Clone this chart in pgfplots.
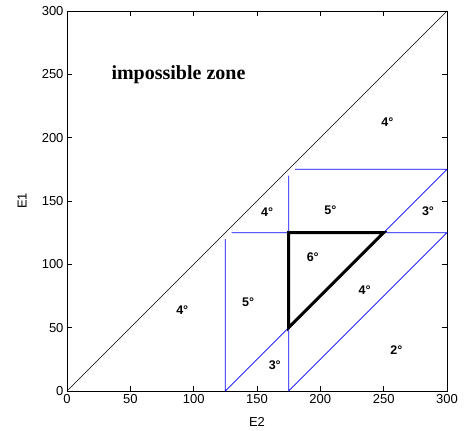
\documentclass[border=0pt]{standalone}
\usepackage{fontspec}
\setmainfont{Liberation Sans}
\newfontfamily\zonefont{Liberation Serif}
\usepackage{pgfplots}
\pgfplotsset{compat=1.18}
\definecolor{mblue}{RGB}{0,0,255}

\begin{document}
\begin{tikzpicture}
\begin{axis}[
  scale only axis,
  width=380pt, height=380pt,
  xmin=0, xmax=300, ymin=0, ymax=300,
  xtick={0,50,...,300}, ytick={0,50,...,300},
  tick align=inside, major tick length=5pt,
  tick style={black, line width=0.6pt},
  axis line style={line width=0.9pt},
  /pgf/number format/assume math mode=true,
  ticklabel style={font=\fontsize{13}{15}\selectfont},
  xlabel={E2}, ylabel={E1},
  every axis x label/.style={at={(axis description cs:0.5,-0.082)}, anchor=center, font=\fontsize{13}{15}\selectfont},
  every axis y label/.style={at={(axis description cs:-0.118,0.5)}, anchor=center, rotate=90, font=\fontsize{13}{15}\selectfont},
  unbounded coords=jump,
  clip=false,
]
% diagonal E1 = E2
\addplot[black, line width=0.6pt] coordinates {(0,0) (300,300)};

% zone boundaries (segments separated by nan)
\addplot[draw=mblue, line width=0.8pt] table[row sep=\\] {
x y \\
125 0 \\ 125 120 \\ nan nan \\
130 125 \\ 300 125 \\ nan nan \\
175 0 \\ 175 170 \\ nan nan \\
180 175 \\ 300 175 \\ nan nan \\
125 0 \\ 175 50 \\ nan nan \\
250 125 \\ 300 175 \\ nan nan \\
175 0 \\ 300 125 \\
};

% 6 degree triangle
\addplot[black, line width=3pt, line join=miter] coordinates {(175,50) (175,125) (250,125) (175,50)} -- cycle;

\node[font=\zonefont\bfseries\fontsize{20}{22}\selectfont] at (axis cs:88,250) {impossible zone};

\begin{scope}[every node/.style={font=\bfseries\fontsize{12.5}{14}\selectfont}]
\node at (axis cs:91,64) {4°};
\node at (axis cs:143,70) {5°};
\node at (axis cs:158,141) {4°};
\node at (axis cs:208,143) {5°};
\node at (axis cs:285,142) {3°};
\node at (axis cs:253,212) {4°};
\node at (axis cs:194,106) {6°};
\node at (axis cs:235,80) {4°};
\node at (axis cs:164,20) {3°};
\node at (axis cs:260,32) {2°};
\end{scope}
\end{axis}
\path (current axis.south west) ++(-67pt,-39pt) rectangle ++(468pt,430pt);
\end{tikzpicture}
\end{document}
